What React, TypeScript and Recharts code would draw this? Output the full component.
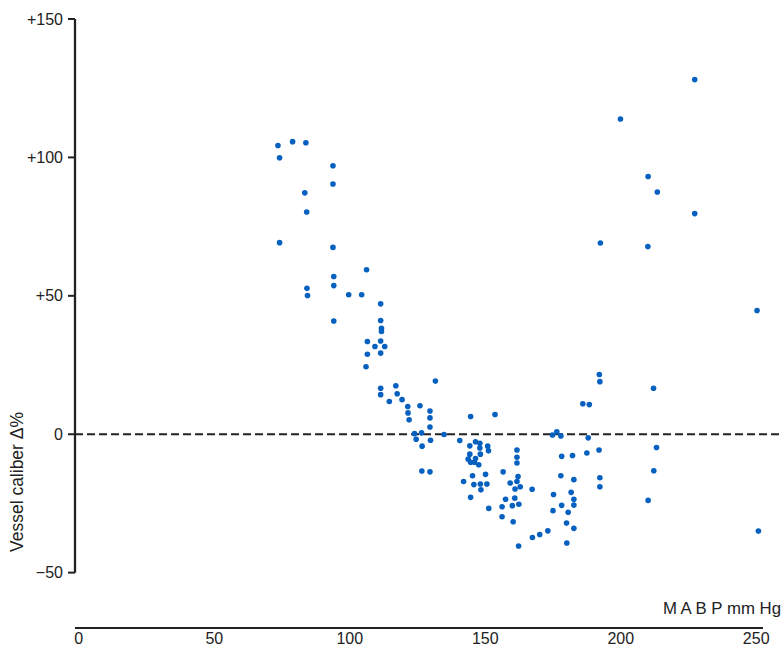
import React from 'react';
import { ScatterChart, Scatter, XAxis, YAxis, ReferenceLine, Label } from 'recharts';

// MABP (mm Hg) readings and the matching change in vessel caliber (%)
const mabp = [
  73.5, 78.9, 83.8, 74.1, 93.8, 93.8, 83.4, 84.1, 74.1, 93.8,
  94.1, 94.1, 84.2, 84.4, 99.6, 104.4, 94.1, 106.2, 111.4, 111.4,
  111.7, 111.7, 106.5, 111.4, 109.3, 112.9, 106.5, 111.4, 106.0, 131.6,
  111.4, 117.0, 111.4, 117.5, 114.6, 119.3, 121.4, 121.5, 121.9, 125.9,
  129.6, 129.6, 129.6, 123.9, 126.5, 124.5, 129.8, 126.7, 134.8, 126.6,
  129.6, 144.6, 153.6, 140.6, 144.3, 146.4, 148.0, 148.0, 150.9, 151.2,
  144.3, 148.2, 143.7, 146.4, 144.6, 146.0, 147.6, 145.3, 150.1, 142.0,
  145.8, 148.2, 150.6, 148.4, 144.6, 151.3, 161.7, 161.7, 161.7, 156.6,
  162.1, 159.2, 161.7, 161.0, 162.9, 167.3, 157.5, 160.9, 156.2, 160.0,
  162.4, 156.2, 160.3, 167.4, 170.1, 173.1, 162.3, 175.0, 175.2, 177.9,
  178.2, 182.2, 174.8, 176.4, 177.9, 178.2, 180.6, 180.0, 182.7, 180.1,
  182.7, 181.7, 182.7, 182.7, 186.0, 188.4, 188.0, 187.5, 192.1, 192.3,
  192.0, 192.3, 192.3, 212.1, 213.2, 212.2, 210.1, 250.8, 227.3, 199.9,
  210.1, 213.5, 227.3, 192.5, 210.0, 250.3,
];

const caliberChange = [
  104.3, 105.7, 105.3, 99.9, 97.0, 90.4, 87.2, 80.3, 69.2, 67.5,
  57.0, 53.7, 52.7, 50.1, 50.4, 50.4, 40.9, 59.4, 47.1, 41.1,
  38.3, 37.1, 33.5, 33.7, 31.7, 31.7, 28.9, 29.3, 24.4, 19.2,
  16.6, 17.5, 14.3, 14.6, 11.8, 12.5, 10.0, 7.7, 5.2, 10.3,
  8.4, 5.9, 2.6, 0.2, 0.5, -1.8, -2.2, -4.3, -0.1, -13.3,
  -13.6, 6.4, 7.1, -2.3, -4.2, -2.7, -3.3, -5.0, -4.3, -6.0,
  -7.2, -7.2, -9.0, -8.8, -10.1, -10.1, -11.0, -15.0, -14.5, -17.1,
  -18.2, -18.0, -18.0, -20.1, -22.8, -26.8, -5.7, -8.3, -10.4, -13.6,
  -15.3, -17.6, -17.1, -19.8, -19.0, -19.9, -23.5, -23.1, -26.2, -25.8,
  -25.3, -29.8, -31.6, -37.3, -36.2, -34.9, -40.4, -27.6, -21.8, -15.0,
  -8.0, -7.7, -0.3, 0.9, -0.6, -25.7, -28.2, -32.1, -34.0, -39.3,
  -16.4, -21.0, -23.5, -25.6, 11.0, 10.7, -1.3, -6.8, 21.6, 19.0,
  -5.7, -15.7, -19.0, 16.6, -4.8, -13.2, -23.9, -35.0, 128.1, 113.9,
  93.1, 87.5, 79.7, 69.1, 67.8, 44.7,
];

const xTicks = [0, 50, 100, 150, 200, 250];
const yTicks = [-50, 0, 50, 100, 150];
const yTickLabels = ['\u221250', '0', '+50', '+100', '+150'];

const points = mabp.map((x, i) => ({ x, y: caliberChange[i] }));

const ink = '#222';
const dotColor = '#0660bf';
const font = '"Liberation Sans", Arial, sans-serif';

const Dot = (props: any) => <circle cx={props.cx} cy={props.cy} r={2.8} fill={dotColor} />;

export default function App() {
  return (
    <div style={{ position: 'absolute', left: 0, top: 0, width: 782, height: 647, background: '#fff', fontFamily: font }}>
      <ScatterChart width={782} height={647} margin={{ top: 19, right: 19, bottom: 0, left: 0 }}>
        <XAxis
          type="number"
          dataKey="x"
          domain={[-1.4, 252.5]}
          ticks={xTicks}
          tickLine={false}
          tickSize={0}
          tickMargin={5}
          height={19}
          axisLine={{ stroke: ink, strokeWidth: 2 }}
          tick={{ fontSize: 16, fill: ink, fontFamily: font }}
          allowDataOverflow
        >
          <Label
            content={(p: any) => (
              <text
                x={p.viewBox.x + p.viewBox.width + 18}
                y={p.viewBox.y - 14}
                textAnchor="end"
                fontSize={16.8}
                fill={ink}
                fontFamily={font}
              >
                M A B P mm Hg
              </text>
            )}
          />
        </XAxis>
        <YAxis
          type="number"
          dataKey="y"
          domain={[-70, 150]}
          ticks={yTicks}
          width={75}
          axisLine={false}
          tickLine={{ stroke: ink, strokeWidth: 2 }}
          tickSize={7}
          tickMargin={5}
          tickFormatter={(v: number) => yTickLabels[yTicks.indexOf(v)]}
          tick={{ fontSize: 16, fill: ink, fontFamily: font }}
          allowDataOverflow
        >
          <Label
            content={() => (
              <text
                x={17}
                y={482}
                transform="rotate(-90, 17, 482)"
                textAnchor="middle"
                dominantBaseline="central"
                fontSize={17.5}
                fill={ink}
                fontFamily={font}
              >
                Vessel caliber Δ%
              </text>
            )}
          />
        </YAxis>
        <ReferenceLine
          segment={[{ x: -1.4, y: -50 }, { x: -1.4, y: 150 }]}
          stroke={ink}
          strokeWidth={2.3}
          ifOverflow="visible"
        />
        <ReferenceLine
          segment={[{ x: -1.4, y: 0 }, { x: 260, y: 0 }]}
          stroke={ink}
          strokeWidth={2}
          strokeDasharray="8 4"
          ifOverflow="visible"
        />
        <Scatter data={points} shape={Dot} isAnimationActive={false} />
      </ScatterChart>
    </div>
  );
}
